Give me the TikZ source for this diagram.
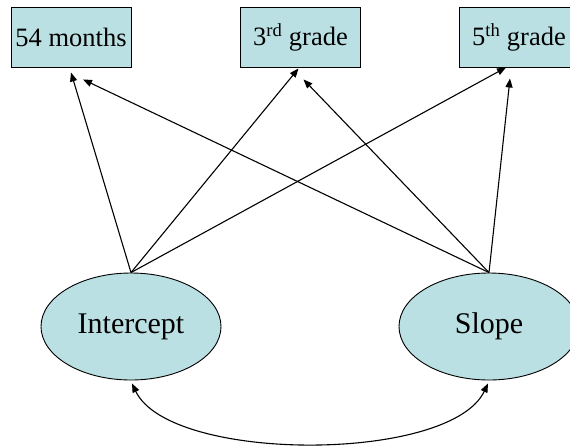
\documentclass[tikz,border=0pt]{standalone}
\usepackage{fontspec}
\setmainfont{Liberation Serif}
\usetikzlibrary{arrows.meta,calc,shapes.geometric}
\definecolor{boxfill}{RGB}{187,224,227}
\begin{document}
\begin{tikzpicture}[x=1pt,y=-1pt,
  obsbox/.style={draw=black,fill=boxfill,line width=0.9pt,minimum width=120pt,minimum height=60pt,inner sep=0pt,font=\fontsize{26.5}{30}\selectfont},
  latent/.style={draw=black,fill=boxfill,line width=0.9pt,ellipse,minimum width=180pt,minimum height=107pt,inner sep=0pt,font=\fontsize{30}{34}\selectfont},
  conn/.style={line width=1.1pt,-{Triangle[length=9pt,width=7pt]}},
  dconn/.style={line width=1.1pt,{Triangle[length=9pt,width=7pt]}-{Triangle[length=9pt,width=7pt]}}
]
\clip (0,0) rectangle (570,445);
\fill[white] (0,0) rectangle (570,445);
\node[obsbox] (m54) at (71,37) {54 months};
\node[obsbox] (g3) at (300.5,37) {3\textsuperscript{rd} grade};
\node[obsbox] (g5) at (519,37) {5\textsuperscript{th} grade};
\node[latent] (I) at (131,326.5) {Intercept};
\node[latent] (S) at (489,326.5) {Slope};
\draw[conn] (I.north) -- ($(m54.south)+(0,5)$);
\draw[conn] (I.north) -- ($(g3.south)+(-2,1)$);
\draw[conn] (I.north) -- ($(g5.south)+(-13,0)$);
\draw[conn] (S.north) -- ($(m54.south)+(12,12)$);
\draw[conn] (S.north) -- ($(g3.south)+(3,12)$);
\draw[conn] (S.north) -- ($(g5.south)+(-9,11)$);
\draw[dconn] ($(I.south)+(1,3)$) .. controls (170,463) and (450,463) .. ($(S.south)+(-1,3)$);
\end{tikzpicture}
\end{document}
